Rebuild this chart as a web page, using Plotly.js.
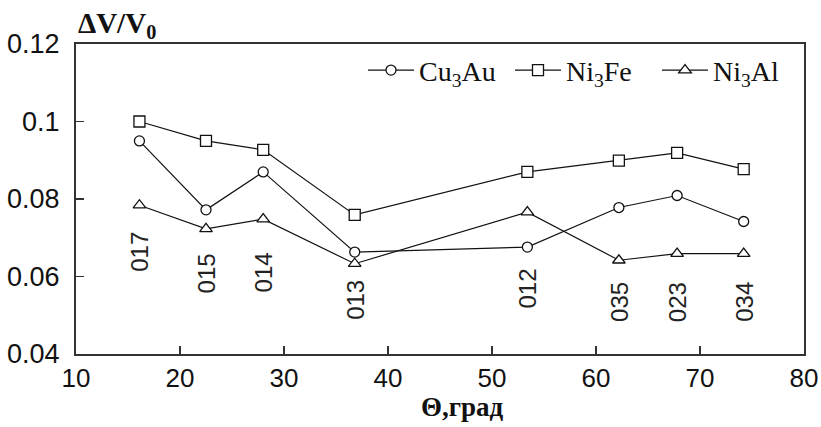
<!DOCTYPE html>
<html>
<head>
<meta charset="utf-8">
<script src="https://cdn.plot.ly/plotly-3.0.1.min.js"></script>
<style>
  html, body { margin: 0; padding: 0; background: #fff; }
  #chart { width: 821px; height: 427px; }
</style>
</head>
<body>
<div id="chart"></div>
<script>
// Angle Θ (deg) for each crystallographic direction
const theta = [16.1, 22.5, 28.0, 36.8, 53.4, 62.2, 67.8, 74.2];
const directions = ['017', '015', '014', '013', '012', '035', '023', '034'];

// Relative volume change ΔV/V0 for each alloy
const cu3au = [0.0950, 0.0772, 0.0870, 0.0663, 0.0676, 0.0778, 0.0809, 0.0742];
const ni3fe = [0.1000, 0.0950, 0.0927, 0.0759, 0.0870, 0.0899, 0.0919, 0.0877];
const ni3al = [0.0784, 0.0723, 0.0748, 0.0633, 0.0766, 0.0642, 0.0659, 0.0659];

// Vertical placement of the direction labels (axis units)
const labelY = [0.0665, 0.0608, 0.0611, 0.0539, 0.0570, 0.0534, 0.0534, 0.0534];

const lineStyle = { color: '#111', width: 1.2 };
function series(name, y, symbol, size) {
  return {
    x: theta, y: y, name: name, type: 'scatter', mode: 'lines+markers',
    line: lineStyle,
    marker: { symbol: symbol, size: size, color: '#fff', line: { color: '#111', width: 1.3 } }
  };
}

const traces = [
  series('Cu<sub>3</sub>Au', cu3au, 'circle', 10),
  series('Ni<sub>3</sub>Fe', ni3fe, 'square', 11),
  series('Ni<sub>3</sub>Al', ni3al, 'triangle-up', 11)
];

const annotations = directions.map((d, i) => ({
  x: theta[i], y: labelY[i], xref: 'x', yref: 'y', text: d,
  showarrow: false, textangle: -90,
  font: { family: 'Liberation Sans, Arial, sans-serif', size: 24, color: '#222' }
}));

annotations.push({
  xref: 'paper', yref: 'paper', x: 0, y: 1.06, xanchor: 'left', yanchor: 'middle',
  text: '<b>ΔV/V<sub>0</sub></b>', showarrow: false,
  font: { family: 'Liberation Serif, Times New Roman, serif', size: 29, color: '#111' }
});
annotations.push({
  xref: 'paper', yref: 'paper', x: 0.5306, y: -0.17, xanchor: 'center', yanchor: 'middle',
  text: '<b>Θ,град</b>', showarrow: false,
  font: { family: 'Liberation Serif, Times New Roman, serif', size: 27, color: '#111' }
});

const axisCommon = {
  showline: true, mirror: true, linecolor: '#333', linewidth: 2,
  showgrid: false, zeroline: false,
  ticks: 'inside', ticklen: 8, tickwidth: 1.2, tickcolor: '#333',
  tickfont: { family: 'Liberation Sans, Arial, sans-serif', size: 26, color: '#111' }
};

const layout = {
  width: 821, height: 427,
  margin: { l: 76, r: 17, t: 44, b: 73 },
  paper_bgcolor: '#fff', plot_bgcolor: '#fff',
  showlegend: true,
  legend: {
    orientation: 'h', x: 1.0, xanchor: 'right', y: 0.915, yanchor: 'middle',
    bgcolor: 'rgba(0,0,0,0)', itemwidth: 46,
    entrywidth: 86, entrywidthmode: 'pixels',
    font: { family: 'Liberation Serif, Times New Roman, serif', size: 28, color: '#111' }
  },
  xaxis: Object.assign({}, axisCommon, {
    range: [10, 80], tickvals: [10, 20, 30, 40, 50, 60, 70, 80], ticklabelstandoff: 0
  }),
  yaxis: Object.assign({}, axisCommon, {
    range: [0.04, 0.12], tickvals: [0.04, 0.06, 0.08, 0.1, 0.12],
    ticktext: ['0.04', '0.06', '0.08', '0.1', '0.12'], ticklabelstandoff: 9,
    tickfont: { family: 'Liberation Sans, Arial, sans-serif', size: 27, color: '#111' }
  }),
  annotations: annotations
};

Plotly.newPlot('chart', traces, layout, { displayModeBar: false, staticPlot: true });
</script>
</body>
</html>
